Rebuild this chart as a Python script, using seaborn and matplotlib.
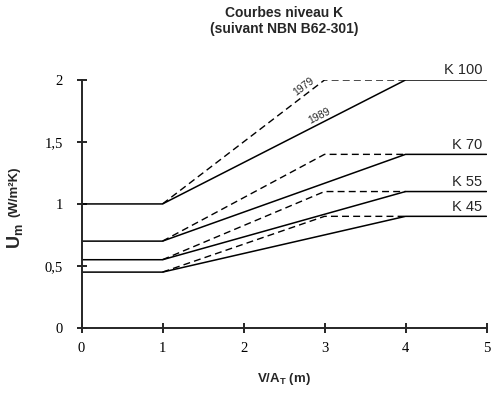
import numpy as np
import pandas as pd
import seaborn as sns
from matplotlib import pyplot as plt

# K-level curves (NBN B62-301)
levels = ["K 100", "K 70", "K 55", "K 45"]
u_low = [1.0, 0.7, 0.55, 0.45]
u_high = [2.0, 1.4, 1.1, 0.9]
x_1989 = [0, 1, 4, 5]
x_1979 = [1, 3, 4]

x_ticks = [0, 1, 2, 3, 4, 5]
y_ticks = [0, 0.5, 1, 1.5, 2]
y_ticklabels = ["0", "0,5", "1", "1,5", "2"]

rows = []
for name, lo, hi in zip(levels, u_low, u_high):
    for x, y in zip(x_1989, [lo, lo, hi, hi]):
        rows.append({"level": name, "year": "1989", "x": x, "y": y})
    for x, y in zip(x_1979, [lo, hi, hi]):
        rows.append({"level": name, "year": "1979", "x": x, "y": y})
df = pd.DataFrame(rows)

sns.set_style("ticks")
plt.rcParams["font.family"] = ["Liberation Sans", "DejaVu Sans"]
plt.rcParams["mathtext.fontset"] = "custom"
plt.rcParams["mathtext.rm"] = "Liberation Sans"
plt.rcParams["mathtext.bf"] = "Liberation Sans:bold"

fig = plt.figure(figsize=(5, 3.96), dpi=100)
ax = fig.add_axes([0.163, 0.172, 0.81, 0.626])

for name in levels:
    sub = df[df["level"] == name]
    sns.lineplot(data=sub[sub["year"] == "1989"], x="x", y="y", color="black",
                 linewidth=1.1, ax=ax)
    sns.lineplot(data=sub[sub["year"] == "1979"], x="x", y="y", color="black",
                 linewidth=1.0, linestyle=(0, (5, 3)), ax=ax)

for name, hi in zip(levels, u_high):
    ax.annotate(name, xy=(5, hi), xytext=(-3, 2), textcoords="offset points",
                ha="right", va="bottom", fontsize=10.5)

ax.text(2.74, 1.95, "1979", rotation=37, rotation_mode="anchor",
        ha="center", va="center", fontsize=7.5)
ax.text(2.94, 1.71, "1989", rotation=27, rotation_mode="anchor",
        ha="center", va="center", fontsize=7.5)

ax.set_xlim(0, 5)
ax.set_ylim(0, 2)
ax.set_xticks(x_ticks)
ax.set_yticks(y_ticks)
ax.set_yticklabels(y_ticklabels)
for lab in ax.get_xticklabels() + ax.get_yticklabels():
    lab.set_fontfamily("Liberation Serif")
    lab.set_fontsize(10.5)
ax.tick_params(direction="inout", length=7, width=1.2, colors="black", pad=7)
ax.tick_params(axis="y", pad=10)
for side in ["left", "bottom"]:
    ax.spines[side].set_linewidth(1.4)
sns.despine(ax=ax)

ax.set_xlabel(r"V/A$_\mathbf{T}$ (m)", fontsize=9.5, fontweight="bold", labelpad=11)
ax.set_ylabel("")

# y label: big U with subscript, then units
ax.text(-0.165, 0.37, r"U$_\mathbf{m}$", transform=ax.transAxes, rotation=90,
        ha="center", va="center", fontsize=13, fontweight="bold")
ax.text(-0.165, 0.55, "(W/m²K)", transform=ax.transAxes, rotation=90,
        ha="center", va="center", fontsize=9.5, fontweight="bold")

fig.text(0.568, 0.985, "Courbes niveau K\n(suivant NBN B62-301)", ha="center",
         va="top", fontsize=10, fontweight="bold", linespacing=1.2)

fig.savefig("out.png", dpi=100)
